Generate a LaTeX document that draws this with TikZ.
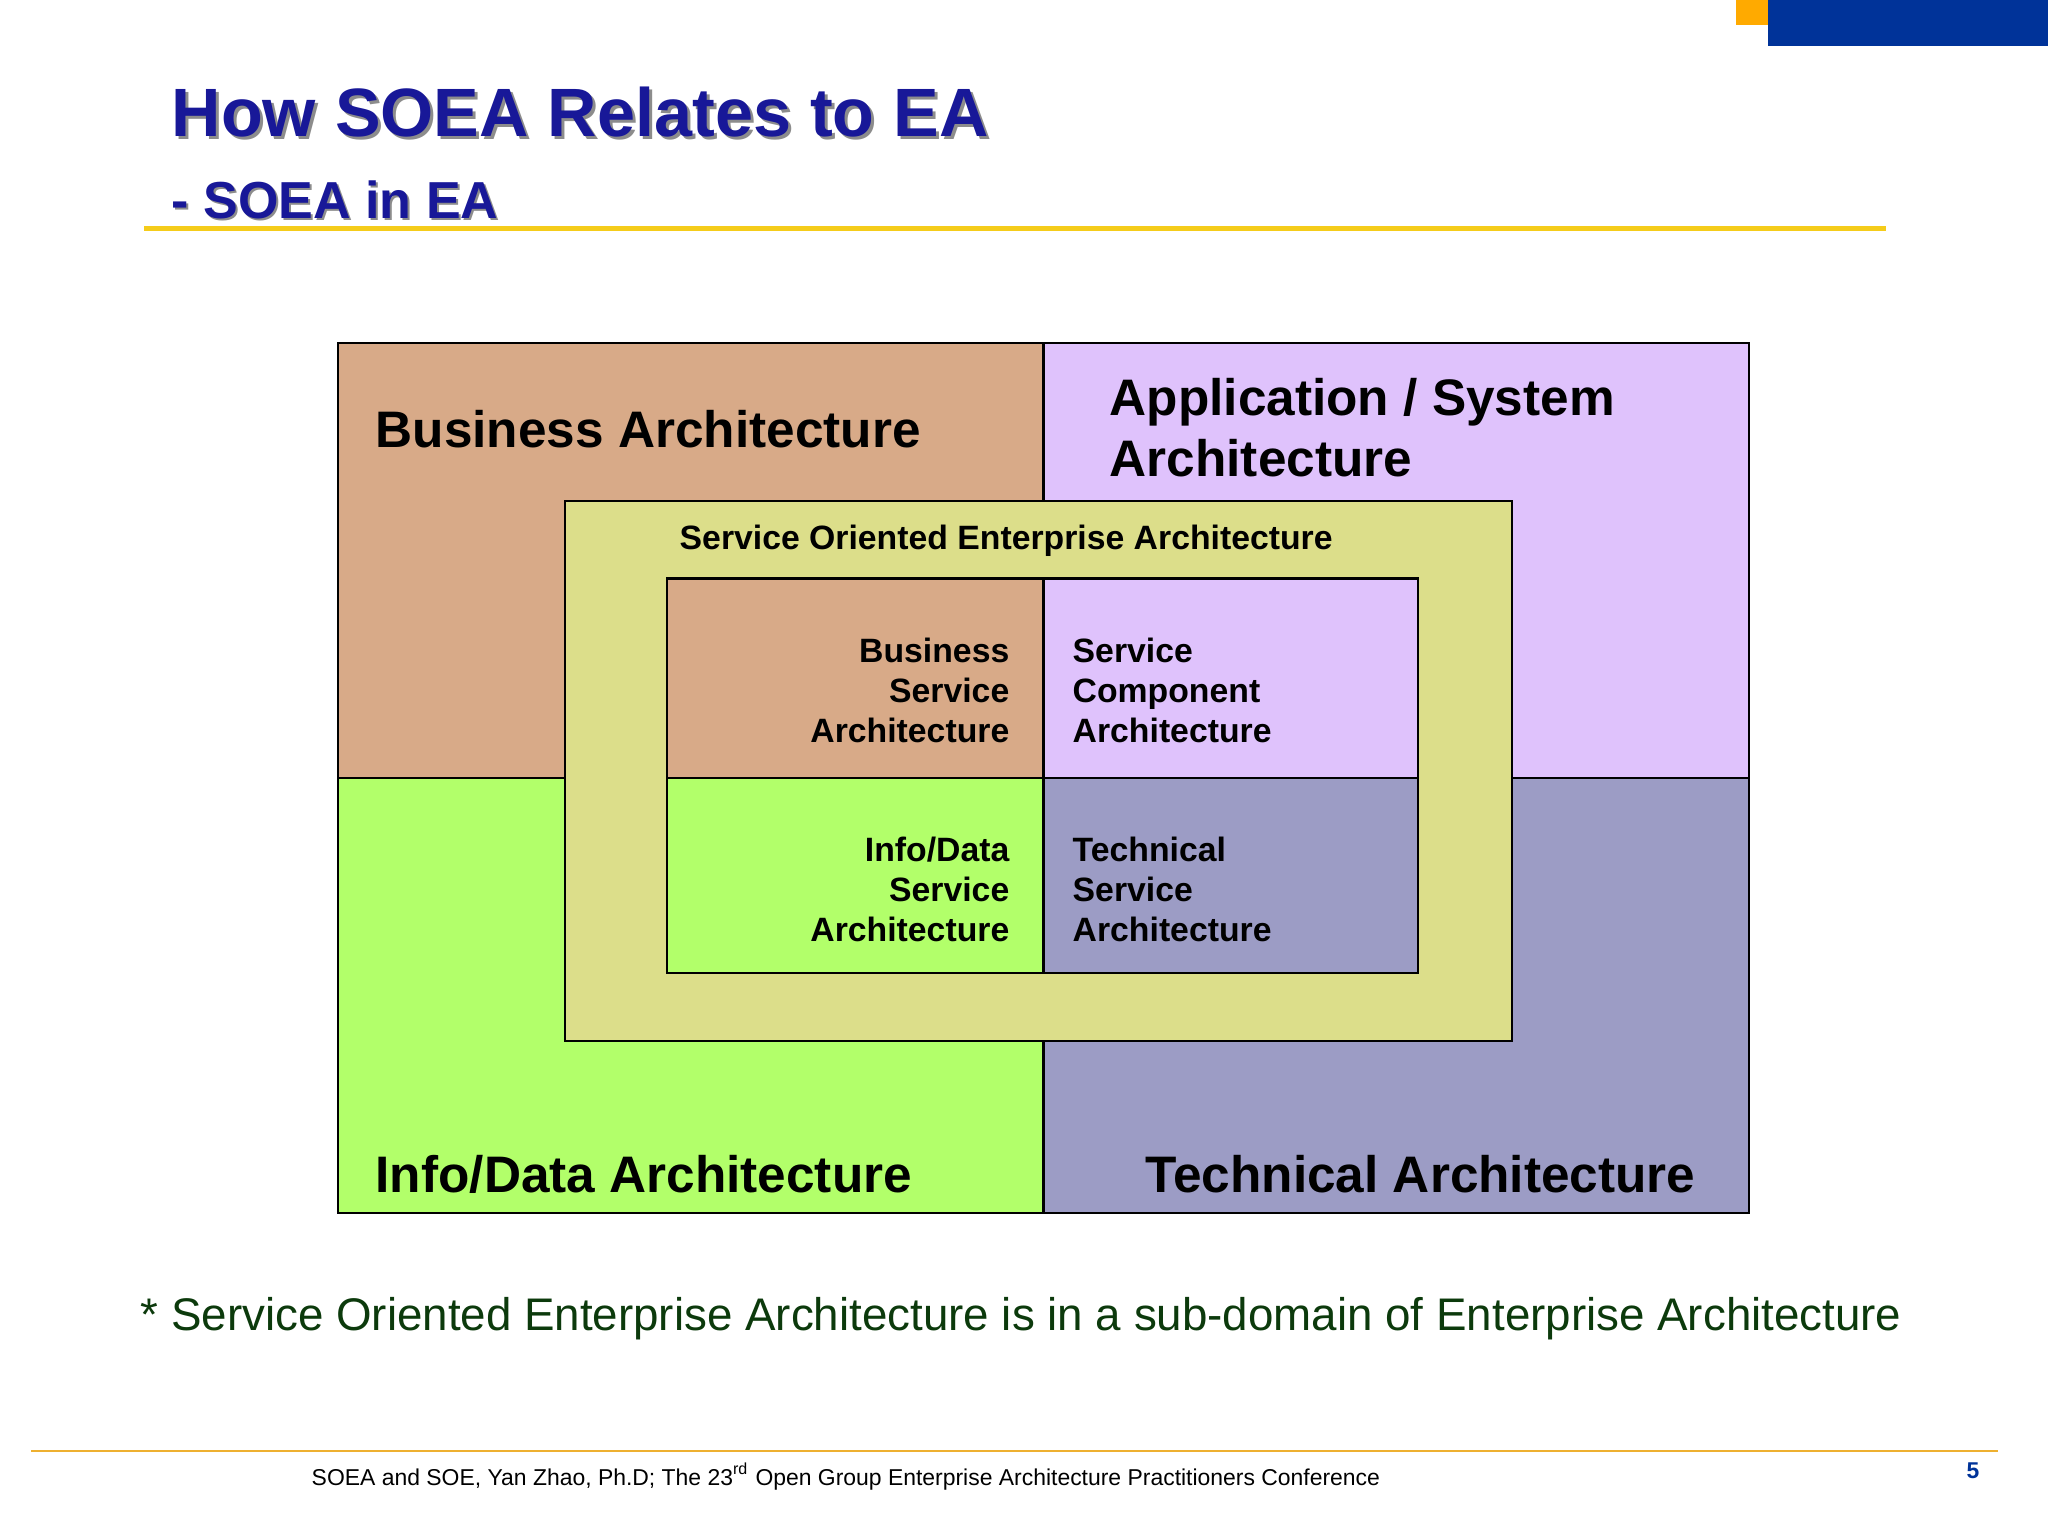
\documentclass[tikz,border=0pt]{standalone}
\usepackage{fontspec}
\setmainfont{Liberation Sans}
\usepackage{tikz}
\usetikzlibrary{positioning}
\definecolor{bizbrown}{RGB}{216,170,136}
\definecolor{applilac}{RGB}{223,194,252}
\definecolor{infogreen}{RGB}{178,255,106}
\definecolor{techgray}{RGB}{156,156,197}
\definecolor{soeayellow}{RGB}{220,222,138}
\definecolor{titleblue}{RGB}{24,24,152}
\definecolor{rulegold}{RGB}{245,204,26}
\definecolor{footgold}{RGB}{238,176,48}
\definecolor{cornerorange}{RGB}{255,170,0}
\definecolor{cornerblue}{RGB}{0,51,153}
\definecolor{notegreen}{RGB}{12,58,12}

\begin{document}
\begin{tikzpicture}[x=0.01cm, y=-0.01cm,
  box/.style={line width=0.7pt},
  headline/.style={font=\bfseries\fontsize{19.45}{24}\selectfont, anchor=base west, inner sep=0pt},
  subheadline/.style={font=\bfseries\fontsize{14.8}{18}\selectfont, anchor=base west, inner sep=0pt},
  archlabel/.style={font=\bfseries\fontsize{14.6}{17.4}\selectfont, anchor=base west, inner sep=0pt, align=left},
  svclabel/.style={font=\bfseries\fontsize{9.6}{11.5}\selectfont, inner sep=0pt}]
  \useasboundingbox (0,0) rectangle (2048,1534);
  \fill[cornerorange] (1736,0) rectangle (1768,25);
  \fill[cornerblue] (1768,0) rectangle (2048,46);
  \node[headline, text=black!45] (titleshadow) at (174,140) {How SOEA Relates to EA};
  \node[headline, text=titleblue] (titletext) at (171,137) {How SOEA Relates to EA};
  \node[subheadline, text=black!45] (subshadow) at (173,221) {- SOEA in EA};
  \node[subheadline, text=titleblue] (subtext) at (171,219) {- SOEA in EA};
  \draw[rulegold, line width=1.2pt] (144,228.5) -- (1886,228.5);
  \foreach \xa/\ya/\xb/\yb/\c in {338/343/1043.5/778/bizbrown, 1043.5/343/1749/778/applilac,
    338/778/1043.5/1213/infogreen, 1043.5/778/1749/1213/techgray} {
    \filldraw[box, fill=\c] (\xa,\ya) rectangle (\xb,\yb);
  }
  \filldraw[box, fill=soeayellow] (565,501) rectangle (1512,1041);
  \foreach \xa/\ya/\xb/\yb/\c in {667/578.5/1043.5/778/bizbrown, 1043.5/578.5/1418/778/applilac,
    667/778/1043.5/973/infogreen, 1043.5/778/1418/973/techgray} {
    \filldraw[box, fill=\c] (\xa,\ya) rectangle (\xb,\yb);
  }
  \node[archlabel] (bizarch) at (375,448) {Business Architecture};
  \node[archlabel] (apparch) at (1109,477) {Application / System\\Architecture};
  \node[archlabel] (infoarch) at (375,1192) {Info/Data Architecture};
  \node[archlabel] (techarch) at (1145,1192) {Technical Architecture};
  \node[svclabel, anchor=base west] (soealabel) at (679,550) {Service Oriented Enterprise Architecture};
  \node[svclabel, anchor=base east, align=right] (bizsvc) at (1010,743) {Business\\Service\\Architecture};
  \node[svclabel, anchor=base west, align=left] (compsvc) at (1072,743) {Service\\Component\\Architecture};
  \node[svclabel, anchor=base east, align=right] (infosvc) at (1010,942) {Info/Data\\Service\\Architecture};
  \node[svclabel, anchor=base west, align=left] (techsvc) at (1072,942) {Technical\\Service\\Architecture};
  \node[anchor=base west, inner sep=0pt, text=notegreen, font=\fontsize{13}{15}\selectfont] (footnote) at (140,1330)
    {* Service Oriented Enterprise Architecture is in a sub-domain of Enterprise Architecture};
  \draw[footgold, line width=0.6pt] (31,1451) -- (1998,1451);
  \node[anchor=base west, inner sep=0pt, font=\fontsize{6.52}{8}\selectfont] (footer) at (311,1485)
    {SOEA and SOE, Yan Zhao, Ph.D; The 23\textsuperscript{rd} Open Group Enterprise Architecture Practitioners Conference};
  \node[anchor=base west, inner sep=0pt, text=cornerblue, font=\bfseries\fontsize{6.5}{8}\selectfont] (pagenum) at (1966,1478) {5};
\end{tikzpicture}
\end{document}
